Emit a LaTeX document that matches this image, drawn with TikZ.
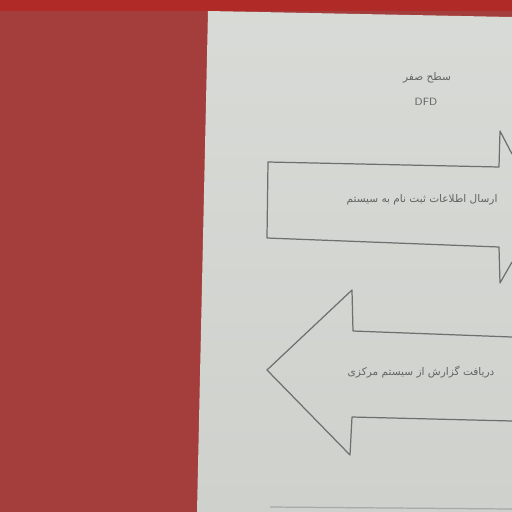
\documentclass[tikz,border=0pt]{standalone}
\usepackage{fontspec}
\newfontfamily\arabicfont[Script=Arabic]{DejaVu Sans}
\TeXXeTstate=1
\definecolor{deskred}{RGB}{164,62,60}
\definecolor{bandred}{RGB}{176,42,40}
\definecolor{paper}{RGB}{206,209,204}
\definecolor{pencil}{RGB}{110,112,110}
\tikzset{pen/.style={draw=pencil, line width=0.7pt, line join=round},
  scrawl/.style={text=pencil!90!black, font=\arabicfont\fontsize{6}{7}\selectfont, inner sep=0pt}}

\begin{document}
\begin{tikzpicture}[x=0.02cm, y=-0.02cm]
	%%%%% START %%%%%
	\useasboundingbox (0, 0) rectangle (512, 512);
	\fill[deskred] (0, 0) rectangle (512, 512);
	\fill[bandred] (0, 0) rectangle (512, 11);
	
	\shade[top color=paper!80!white, bottom color=paper] (208, 11) -- (512, 17) -- (512, 512) -- (197, 512) -- cycle;
	
	\node[scrawl] (level) at (427, 78) {\beginR سطح صفر\endR};
	\node[scrawl, font=\sffamily\fontsize{6}{7}\selectfont] (dfd) at (426, 102) {DFD};
	
	\draw[pen] (512, 154) -- (500, 131) -- (499, 167) -- (268, 162) -- (267, 238) -- (499, 247) -- (500, 283) -- (512, 262);
	\node[scrawl] (sendtxt) at (422, 200) {\beginR ارسال اطلاعات ثبت نام به سیستم\endR};
	
	\draw[pen] (512, 337) -- (353, 331) -- (352, 290) -- (267, 370) -- (350, 455) -- (352, 417) -- (512, 421);
	\node[scrawl] (backtxt) at (421, 372) {\beginR دریافت گزارش از سیستم مرکزی\endR};
	
	\draw[pen, draw=pencil!60] (270, 507) -- (512, 509);
	%%%%% END %%%%%
\end{tikzpicture}
\end{document}
